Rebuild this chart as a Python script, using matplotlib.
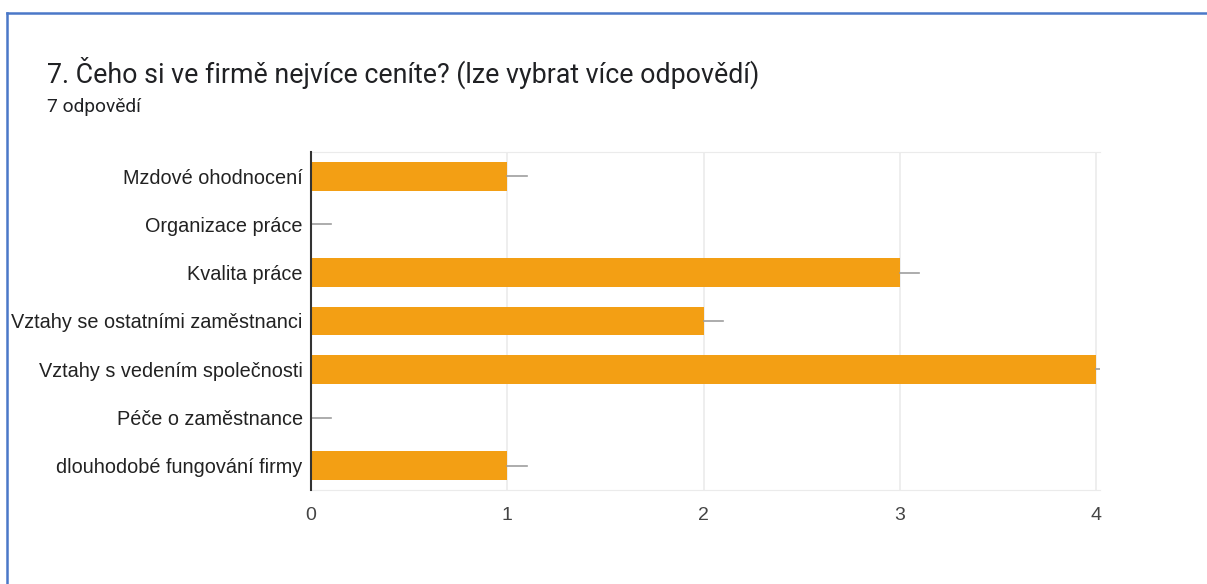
import matplotlib
matplotlib.use("Agg")
import matplotlib.pyplot as plt
from matplotlib.lines import Line2D

# odpovedi na otazku 7
kategorie = ["Mzdové ohodnocení", "Organizace práce", "Kvalita práce",
             "Vztahy se ostatními zaměstnanci", "Vztahy s vedením společnosti",
             "Péče o zaměstnance", "dlouhodobé fungování firmy"]
pocty = [1, 0, 3, 2, 4, 0, 1]
osa_x = [0, 1, 2, 3, 4]

W, H = 1207, 584
fig = plt.figure(figsize=(W / 100, H / 100), dpi=100)
fig.patch.set_facecolor("white")

# ramecek okolo (jen horni a leva hrana)
fig.add_artist(Line2D([7 / W, 1], [1 - 13 / H, 1 - 13 / H], color="#4a78c8", lw=1.8))
fig.add_artist(Line2D([7 / W, 7 / W], [0, 1 - 13 / H], color="#4a78c8", lw=1.8))

fig.text(47 / W, 1 - 73 / H, "7. Čeho si ve firmě nejvíce ceníte? (lze vybrat více odpovědí)",
         fontsize=19.3, family="Roboto", color="#202124", va="center")
fig.text(47 / W, 1 - 107 / H, "7 odpovědí", fontsize=13.8, family="Roboto",
         color="#202124", va="center")

ax = fig.add_axes([311 / W, 1 - 490 / H, 789 / W, 338 / H])
y = list(range(len(kategorie)))
ax.barh(y, pocty, height=0.6, color="#f39f14", zorder=3)

# kratke carky za koncem sloupcu
for yi, v in zip(y, pocty):
    ax.plot([v, v + 0.1], [yi, yi], color="#9e9e9e", lw=1.2, zorder=4)

ax.set_xlim(0, 4.02)
ax.set_ylim(len(kategorie) - 0.5, -0.5)
ax.set_yticks(y)
ax.set_yticklabels(kategorie, family="Liberation Sans", fontsize=14.3, color="#222222")
ax.set_xticks(osa_x)
ax.set_xticklabels([str(t) for t in osa_x], family="Liberation Sans", fontsize=14,
                   color="#444444")
ax.tick_params(axis="both", length=0)
ax.tick_params(axis="y", pad=6)
ax.tick_params(axis="x", pad=12)
ax.grid(axis="x", color="#ebebeb", lw=1.2, zorder=0)

ax.spines["right"].set_visible(False)
ax.spines["top"].set_color("#ebebeb")
ax.spines["bottom"].set_color("#ebebeb")
ax.spines["left"].set_color("#333333")
ax.spines["left"].set_linewidth(1.5)
ax.spines["left"].set_zorder(5)

fig.savefig("out.png", dpi=100)
